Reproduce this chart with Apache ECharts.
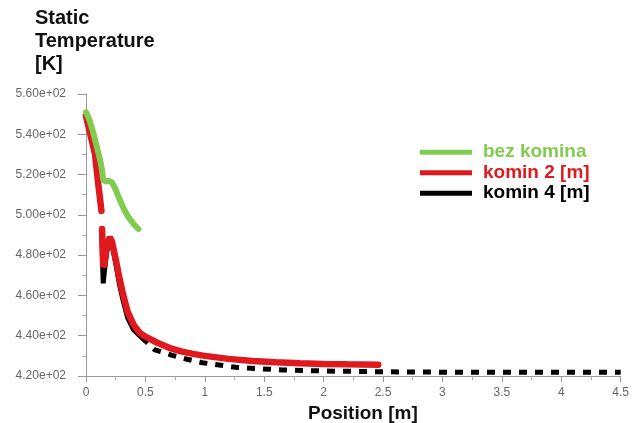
<!DOCTYPE html>
<html>
<head>
<meta charset="utf-8">
<script src="https://cdn.jsdelivr.net/npm/echarts@6/dist/echarts.min.js"></script>
<style>
html,body{margin:0;padding:0;background:#fff;}
#main{width:632px;height:423px;}
</style>
</head>
<body>
<div id="main"></div>
<script>
// dane: [pozycja m, temperatura K]
var bezKomina = [
	[0,551],[0.03,547],[0.06,541],[0.09,534],[0.12,527],[0.135,522],[0.145,517.5],
	[0.16,516.5],[0.19,517],[0.22,516],[0.25,512.5],[0.28,508],[0.31,504],
	[0.35,499.5],[0.4,495.5],[0.44,493]
];
var komin2 = [
	[0,549],[0.034,540.5],[0.075,530.5],[0.1,517],[0.13,502],[0.132,'-'],
	[0.135,493],[0.14,483],[0.145,474],[0.155,476],[0.175,484],[0.2,489],
	[0.22,486.5],[0.25,478],[0.28,469],[0.31,461],[0.35,452],[0.4,445.5],
	[0.45,441.5],[0.5,439.5],[0.6,436.5],[0.7,434],[0.8,432.2],[0.9,431],
	[1,430],[1.2,428.5],[1.4,427.5],[1.6,426.8],[1.8,426.3],[2,426],
	[2.2,425.8],[2.46,425.6]
];
var komin4 = [
	[0,549],[0.034,540.5],[0.075,530.5],[0.1,517],[0.13,502],[0.132,'-'],
	[0.135,489],[0.14,475],[0.145,466],[0.155,472],[0.175,482],[0.2,488],
	[0.22,485],[0.25,476],[0.28,466],[0.31,458],[0.35,449],[0.4,443],[0.47,439]
];
var komin4Dalej = [
	[0.47,439],[0.58,433],[0.72,430.4],[0.85,428.3],[0.98,426.6],[1.26,424.3],
	[1.65,423],[2,422.5],[2.46,422.1],[3,421.9],[3.5,421.8],[4.5,421.8]
];
var nazwy = ['bez komina','komin 2 [m]','komin 4 [m]'];
var kolory = ['#7fcc4f','#e0191e','#000000'];

var font = 'Liberation Sans, Arial, sans-serif';
var myChart = echarts.init(document.getElementById("main"));
var option = {
	animation: false,
	backgroundColor: '#fff',
	title: [
		{
			text: 'Static\nTemperature\n[K]',
			left: 35, top: 7, padding: 0,
			textStyle: {fontFamily: font, fontSize: 20, fontWeight: 'bold', lineHeight: 23, color: '#111'}
		},
		{
			text: 'Position [m]',
			left: 308, top: 404, padding: 0,
			textStyle: {fontFamily: font, fontSize: 19, fontWeight: 'bold', color: '#111'}
		}
	],
	legend: {
		orient: 'vertical',
		left: 420, top: 142, padding: 0,
		icon: 'rect',
		itemWidth: 52, itemHeight: 5,
		itemGap: 0,
		textStyle: {fontFamily: font, fontSize: 19, fontWeight: 'bold', lineHeight: 20.5, padding: [0, 0, 0, 6]},
		data: nazwy.map(function (n, i) {
			return {name: n, itemStyle: {color: kolory[i]}, textStyle: {color: kolory[i]}};
		})
	},
	grid: {left: 86, right: 9, top: 94, bottom: 47},
	xAxis: {
		type: 'value', min: 0, max: 4.5, interval: 0.5,
		axisLine: {lineStyle: {color: '#999'}},
		axisTick: {length: 6, lineStyle: {color: '#999'}},
		minorTick: {show: true, splitNumber: 2, length: 4, lineStyle: {color: '#aaa'}},
		splitLine: {show: false},
		axisLabel: {fontFamily: font, fontSize: 12, color: '#666', margin: 11,
			formatter: function (v) { return String(v); }}
	},
	yAxis: {
		type: 'value', min: 420, max: 560, interval: 20,
		axisLine: {show: true, lineStyle: {color: '#999'}},
		axisTick: {show: true, length: 8, lineStyle: {color: '#999'}},
		minorTick: {show: true, splitNumber: 2, length: 4, lineStyle: {color: '#aaa'}},
		splitLine: {show: false},
		axisLabel: {fontFamily: font, fontSize: 12, color: '#666', margin: 20,
			formatter: function (v) { return (v / 100).toFixed(2) + 'e+02'; }}
	},
	series: [
		{
			name: nazwy[2], type: 'line', data: komin4Dalej, showSymbol: false,
			lineStyle: {color: kolory[2], width: 5, type: [8, 8]}, itemStyle: {color: kolory[2]}
		},
		{
			name: nazwy[2], type: 'line', data: komin4, showSymbol: false, connectNulls: false,
			lineStyle: {color: kolory[2], width: 5, cap: 'round'}, itemStyle: {color: kolory[2]}
		},
		{
			name: nazwy[1], type: 'line', data: komin2, showSymbol: false, connectNulls: false,
			lineStyle: {color: kolory[1], width: 6.5, cap: 'round'}, itemStyle: {color: kolory[1]}
		},
		{
			name: nazwy[0], type: 'line', data: bezKomina, showSymbol: false,
			lineStyle: {color: kolory[0], width: 6, cap: 'round'}, itemStyle: {color: kolory[0]}
		}
	]
};
myChart.setOption(option);
</script>
</body>
</html>
